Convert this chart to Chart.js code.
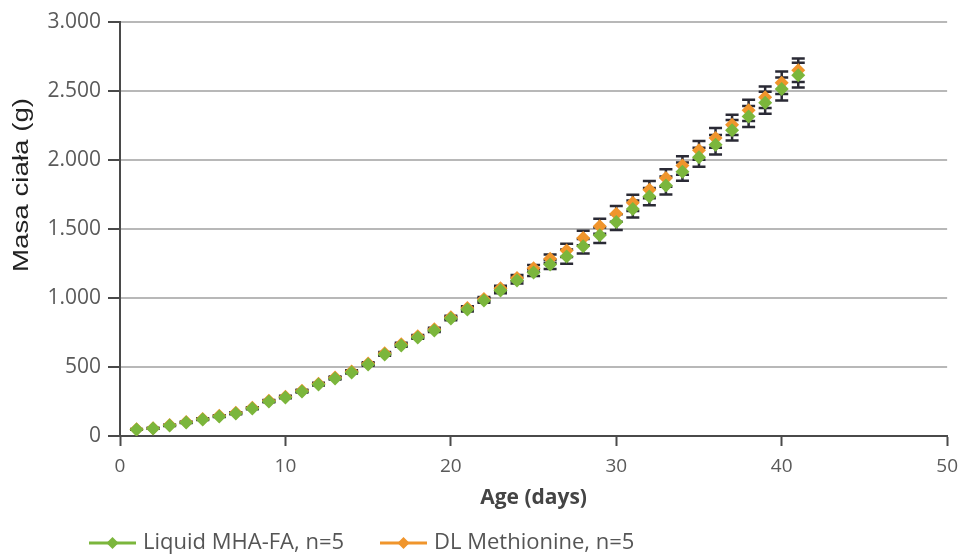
<!DOCTYPE html>
<html>
<head>
<meta charset="utf-8">
<script src="https://cdn.jsdelivr.net/npm/chart.js@4.4.1/dist/chart.umd.min.js"></script>
<style>
  html, body { margin: 0; padding: 0; background: #ffffff; overflow: hidden; }
  #wrap { width: 962px; height: 555px; position: relative; overflow: hidden; }
</style>
</head>
<body>
<div id="wrap"><canvas id="c" width="967" height="555"></canvas></div>
<script>
// ---- data ----
const days = [1,2,3,4,5,6,7,8,9,10,11,12,13,14,15,16,17,18,19,20,21,22,23,24,25,26,27,28,29,30,31,32,33,34,35,36,37,38,39,40,41];
const mhaWeight = [47,54,76,98,120,141,163,199,250,279,322,373,417,460,518,591,656,714,764,851,917,982,1054,1127,1185,1243,1300,1375,1455,1550,1645,1735,1815,1915,2020,2110,2215,2315,2415,2515,2615];
const dlWeight  = [49,57,79,101,124,146,168,204,255,285,328,379,424,468,526,600,665,722,773,860,927,992,1070,1145,1215,1285,1345,1435,1520,1610,1690,1785,1870,1960,2070,2160,2255,2360,2455,2560,2650];
const mhaSD = [2,2,3,3,4,4,5,5,6,6,7,7,8,8,9,9,10,10,11,12,14,16,19,22,26,32,52,53,56,57,61,62,65,66,69,71,74,76,80,83,90];
const dlSD  = [2,2,3,3,4,4,5,5,6,6,7,7,8,8,9,9,10,10,11,12,14,16,18,22,25,31,48,52,54,57,59,62,63,67,68,72,73,77,78,82,85];
const seriesLabels = ['Liquid MHA-FA, n=5', 'DL Methionine, n=5'];
const yTicks = [0,500,1000,1500,2000,2500,3000];
const xTitle = 'Age (days)';
const yTitle = 'Masa ciała (g)';

const GREEN = '#7bb63c';
const ORANGE = '#f0952c';

function fmt(v){
  if (v >= 1000) { return Math.floor(v/1000) + '.' + String(v % 1000).padStart(3,'0'); }
  return String(v);
}

const errorBars = {
  id: 'errorBars',
  beforeDatasetsDraw(chart) {
    const ctx = chart.ctx, xs = chart.scales.x, ys = chart.scales.y;
    ctx.save();
    ctx.strokeStyle = '#2a2a35';
    ctx.lineWidth = 2.5;
    chart.data.datasets.forEach((ds) => {
      ds.data.forEach((p, i) => {
        const sd = ds.sd[i];
        const x = xs.getPixelForValue(p.x);
        const yTop = ys.getPixelForValue(p.y + sd);
        const yBot = ys.getPixelForValue(p.y - sd);
        ctx.beginPath();
        ctx.moveTo(x, yTop); ctx.lineTo(x, yBot);
        ctx.moveTo(x - 6.5, yTop); ctx.lineTo(x + 6.5, yTop);
        ctx.moveTo(x - 6.5, yBot); ctx.lineTo(x + 6.5, yBot);
        ctx.stroke();
      });
    });
    ctx.restore();
  }
};

const extras = {
  id: 'extras',
  afterDraw(chart) {
    const ctx = chart.ctx;
    ctx.save();
    // y-axis title
    ctx.fillStyle = '#222222';
    ctx.font = '22px "Liberation Sans", Arial, sans-serif';
    ctx.textAlign = 'center';
    ctx.textBaseline = 'middle';
    ctx.translate(22, 185);
    ctx.rotate(-Math.PI / 2);
    ctx.scale(1.26, 1);
    ctx.fillText(yTitle, 0, 0);
    ctx.restore();

    // legend
    const items = [
      { x: 89, color: chart.data.datasets[0].borderColor, label: chart.data.datasets[0].label },
      { x: 380, color: chart.data.datasets[1].borderColor, label: chart.data.datasets[1].label }
    ];
    const ly = 543;
    ctx.save();
    items.forEach((it) => {
      ctx.strokeStyle = it.color;
      ctx.lineWidth = 3;
      ctx.beginPath();
      ctx.moveTo(it.x, ly); ctx.lineTo(it.x + 47, ly);
      ctx.stroke();
      ctx.fillStyle = it.color;
      const cx = it.x + 23.5, r = 6;
      ctx.beginPath();
      ctx.moveTo(cx, ly - r); ctx.lineTo(cx + r, ly); ctx.lineTo(cx, ly + r); ctx.lineTo(cx - r, ly);
      ctx.closePath();
      ctx.fill();
      ctx.fillStyle = '#555555';
      ctx.font = '22px "Open Sans", sans-serif';
      ctx.textAlign = 'left';
      ctx.textBaseline = 'middle';
      ctx.fillText(it.label, it.x + 54, ly);
    });
    ctx.restore();
  }
};

new Chart(document.getElementById('c'), {
  type: 'scatter',
  data: {
    datasets: [
      {
        label: seriesLabels[0],
        data: days.map((d, i) => ({ x: d, y: mhaWeight[i] })),
        sd: mhaSD,
        backgroundColor: GREEN,
        borderColor: GREEN,
        pointStyle: 'rectRot',
        pointRadius: 7,
        pointBorderWidth: 0,
        showLine: false
      },
      {
        label: seriesLabels[1],
        data: days.map((d, i) => ({ x: d, y: dlWeight[i] })),
        sd: dlSD,
        backgroundColor: ORANGE,
        borderColor: ORANGE,
        pointStyle: 'rectRot',
        pointRadius: 7,
        pointBorderWidth: 0,
        showLine: false
      }
    ]
  },
  options: {
    responsive: false,
    animation: false,
    devicePixelRatio: 1,
    layout: { padding: { left: 0, right: 0, top: 22, bottom: 39 } },
    plugins: {
      legend: { display: false },
      tooltip: { enabled: false },
      title: { display: false }
    },
    scales: {
      x: {
        type: 'linear',
        min: 0, max: 50,
        ticks: { stepSize: 10, color: '#5a5a5a', font: { family: 'Open Sans', size: 19 }, padding: 9 },
        grid: { drawOnChartArea: false, drawTicks: true, tickLength: 10, tickColor: '#4a4a4a', tickWidth: 2 },
        border: { display: true, color: '#4a4a4a', width: 2 },
        title: { display: true, text: xTitle, color: '#444444', font: { family: 'Open Sans', size: 21, weight: 'bold' }, padding: { top: 2, bottom: 5 } },
        afterFit(scale) { scale.height = 80; }
      },
      y: {
        type: 'linear',
        min: 0, max: 3000,
        afterBuildTicks(scale) { scale.ticks = yTicks.map(v => ({ value: v })); },
        ticks: { color: '#5a5a5a', font: { family: 'Open Sans', size: 21 }, padding: 7, callback: (v) => fmt(v) },
        grid: { color: '#b8b8b8', lineWidth: 2, drawTicks: true, tickLength: 12, tickColor: '#4a4a4a', tickWidth: 2 },
        border: { display: true, color: '#4a4a4a', width: 2 },
        afterFit(scale) { scale.width = 120; }
      }
    }
  },
  plugins: [errorBars, extras]
});
</script>
</body>
</html>
